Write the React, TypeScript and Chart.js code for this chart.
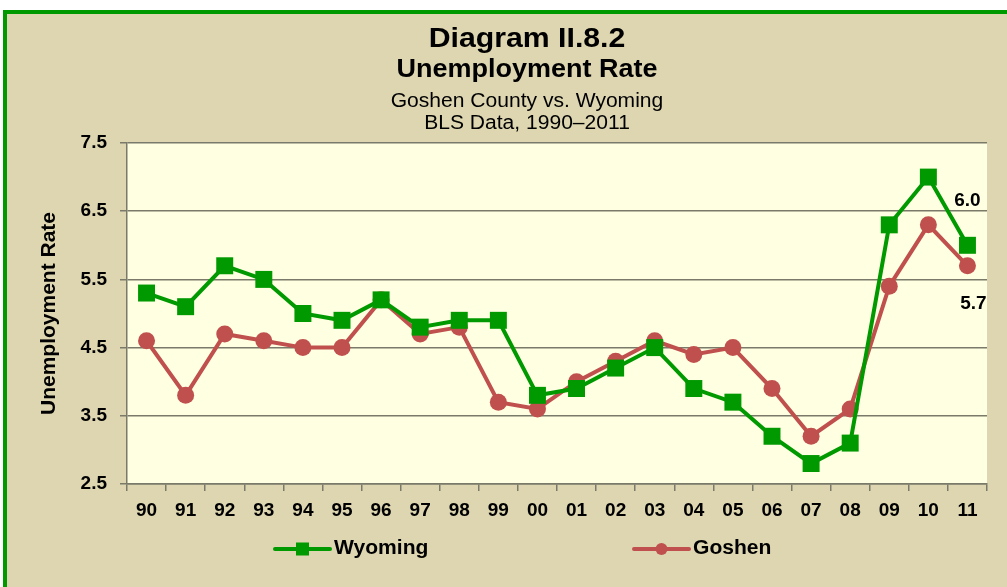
import React, { useEffect, useRef } from "react";
import { Chart, registerables } from "chart.js";

Chart.register(...registerables);

const categories = ["90","91","92","93","94","95","96","97","98","99","00","01","02","03","04","05","06","07","08","09","10","11"];
const wyoming = [5.3,5.1,5.7,5.5,5.0,4.9,5.2,4.8,4.9,4.9,3.8,3.9,4.2,4.5,3.9,3.7,3.2,2.8,3.1,6.3,7.0,6.0];
const goshen = [4.6,3.8,4.7,4.6,4.5,4.5,5.2,4.7,4.8,3.7,3.6,4.0,4.3,4.6,4.4,4.5,3.9,3.2,3.6,5.4,6.3,5.7];
const yTicks = [2.5,3.5,4.5,5.5,6.5,7.5];
const titleLines = ["Diagram II.8.2","Unemployment Rate","Goshen County vs. Wyoming","BLS Data, 1990\u20132011"];
const seriesNames = ["Wyoming","Goshen"];

const GREEN = "#009900";
const RED = "#C0504D";
const FONT = "'Liberation Sans', Arial, sans-serif";
const STRETCH = 1.08;

function stretchedText(ctx: any, text: string, x: number, y: number, align: string) {
  ctx.save();
  ctx.translate(x, y);
  ctx.scale(STRETCH, 1);
  ctx.textAlign = align;
  ctx.fillText(text, 0, 0);
  ctx.restore();
}

const decorPlugin = {
  id: "decor",
  beforeDraw(chart: any) {
    const { ctx, chartArea } = chart;
    ctx.save();
    ctx.fillStyle = "#FFFFE1";
    ctx.fillRect(chartArea.left, chartArea.top, chartArea.right - chartArea.left, chartArea.bottom - chartArea.top);
    ctx.restore();
  },
  afterDraw(chart: any) {
    const { ctx } = chart;
    ctx.save();
    ctx.fillStyle = "#000";
    ctx.textBaseline = "middle";
    const cx = 527;
    ctx.font = `bold 28px ${FONT}`;
    stretchedText(ctx, titleLines[0], cx, 39, "center");
    ctx.font = `bold 25px ${FONT}`;
    stretchedText(ctx, titleLines[1], cx, 70, "center");
    ctx.font = `19.5px ${FONT}`;
    stretchedText(ctx, titleLines[2], cx, 102, "center");
    stretchedText(ctx, titleLines[3], cx, 124, "center");

    // data labels for last points
    const x = chart.scales.x;
    const y = chart.scales.y;
    const last = categories.length - 1;
    ctx.font = `bold 19px ${FONT}`;
    ctx.textAlign = "center";
    ctx.fillText(wyoming[last].toFixed(1), x.getPixelForValue(last), y.getPixelForValue(wyoming[last]) - 45);
    ctx.fillText(goshen[last].toFixed(1), x.getPixelForValue(last) + 6, y.getPixelForValue(goshen[last]) + 38);

    // legend
    const ly = 549;
    const items = [
      { name: seriesNames[0], color: GREEN, x0: 275, x1: 330, shape: "rect" },
      { name: seriesNames[1], color: RED, x0: 634, x1: 689, shape: "circle" },
    ];
    for (const it of items) {
      ctx.strokeStyle = it.color;
      ctx.lineWidth = 4;
      ctx.lineCap = "round";
      ctx.beginPath();
      ctx.moveTo(it.x0, ly);
      ctx.lineTo(it.x1, ly);
      ctx.stroke();
      ctx.fillStyle = it.color;
      const mx = (it.x0 + it.x1) / 2;
      if (it.shape === "rect") {
        ctx.fillRect(mx - 6.5, ly - 6.5, 13, 13);
      } else {
        ctx.beginPath();
        ctx.arc(mx, ly, 6, 0, Math.PI * 2);
        ctx.fill();
      }
      ctx.fillStyle = "#000";
      ctx.font = `bold 19.5px ${FONT}`;
      stretchedText(ctx, it.name, it.x1 + 4, ly, "left");
    }
    ctx.restore();
  },
};

export default function App() {
  const ref = useRef<HTMLCanvasElement | null>(null);
  useEffect(() => {
    document.body.style.margin = "0";
    document.body.style.overflow = "hidden";
    const chart = new Chart(ref.current as HTMLCanvasElement, {
      type: "line",
      data: {
        labels: categories,
        datasets: [
          {
            label: seriesNames[0],
            data: wyoming,
            borderColor: GREEN,
            backgroundColor: GREEN,
            borderWidth: 4,
            pointStyle: "rect",
            pointRadius: 12,
            pointBorderWidth: 0,
            pointBackgroundColor: GREEN,
            tension: 0,
          },
          {
            label: seriesNames[1],
            data: goshen,
            borderColor: RED,
            backgroundColor: RED,
            borderWidth: 4,
            pointStyle: "circle",
            pointRadius: 8.5,
            pointBorderWidth: 0,
            pointBackgroundColor: RED,
            tension: 0,
          },
        ],
      },
      options: {
        animation: false,
        responsive: false,
        devicePixelRatio: 1,
        layout: { padding: { left: 0, top: 143, right: 20, bottom: 68 } },
        plugins: { legend: { display: false }, title: { display: false }, tooltip: { enabled: false } },
        scales: {
          x: {
            type: "category",
            offset: true,
            grid: { offset: true, drawOnChartArea: false, drawTicks: true, tickLength: 7, color: "#7A7A6A", lineWidth: 1.5 },
            border: { color: "#7A7A6A", width: 1.5 },
            ticks: { color: "#000", font: { family: FONT, size: 19, weight: "bold" }, padding: 8, maxRotation: 0, autoSkip: false },
            afterFit: (s: any) => { s.height = 35; },
          },
          y: {
            min: 2.5,
            max: 7.5,
            afterBuildTicks: (s: any) => { s.ticks = yTicks.map((v) => ({ value: v })); },
            grid: { color: "#7A7A6A", lineWidth: 1.5, drawTicks: true, tickLength: 7 },
            border: { color: "#7A7A6A", width: 1.5 },
            ticks: { color: "#000", font: { family: FONT, size: 19, weight: "bold" }, padding: 13, callback: (v: any) => Number(v).toFixed(1) },
            title: { display: true, text: "Unemployment Rate", color: "#000", font: { family: FONT, size: 21, weight: "bold" }, padding: { top: 37, bottom: 0 } },
            afterFit: (s: any) => { s.width = 127; },
          },
        },
      },
      plugins: [decorPlugin],
    });
    return () => chart.destroy();
  }, []);

  return (
    <div style={{ position: "absolute", left: 0, top: 0, width: 1007, height: 587, overflow: "hidden", background: "#fff" }}>
      <div style={{ position: "absolute", left: 3, top: 10, width: 1100, height: 700, boxSizing: "border-box", border: "4px solid #009900", background: "#DDD6B0" }} />
      <canvas ref={ref} width={1007} height={587} style={{ position: "absolute", left: 0, top: 0, width: 1007, height: 587 }} />
    </div>
  );
}
